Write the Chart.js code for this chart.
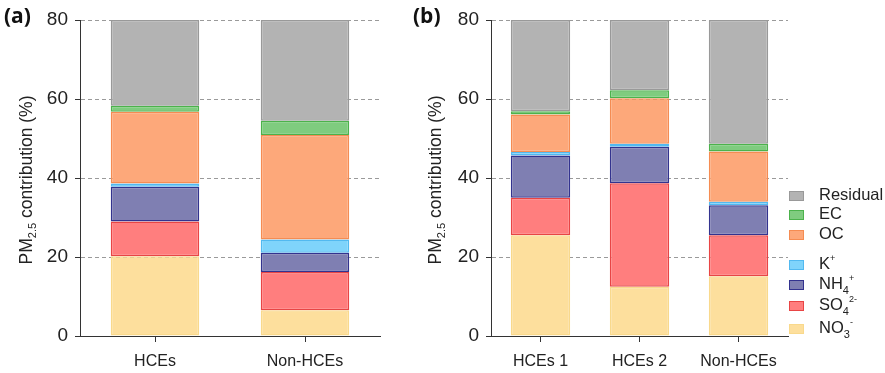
<!DOCTYPE html>
<html>
<head>
<meta charset="utf-8">
<script src="https://cdn.jsdelivr.net/npm/chart.js"></script>
<style>
  body { margin: 0; background: #fff; font-family: "Liberation Sans", Arial, sans-serif; }
  #wrap { position: relative; width: 885px; height: 373px; overflow: hidden; }
  canvas { position: absolute; top: 0; }
  .panel { position: absolute; top: 1px; font-family: "Open Sans", sans-serif; font-weight: bold; font-size: 21px; color: #111; }
  .ytitle { position: absolute; top: 180px; font-size: 17.5px; color: #222; white-space: nowrap;
            transform: translate(-50%, -50%) rotate(-90deg); }
  .ytitle sub { font-size: 11px; }
  .legend { position: absolute; left: 789px; top: 0; font-size: 16.5px; color: #222; }
  .item { position: absolute; left: 0; white-space: nowrap; height: 20px; line-height: 20px; transform: translateY(-50%); }
  .box { display: inline-block; width: 13px; height: 8px; border: 1px solid; vertical-align: middle; margin-right: 15px; }
  .item sub { font-size: 11px; vertical-align: -5px; }
  .item sup { font-size: 9px; vertical-align: 8px; }
</style>
</head>
<body>
<div id="wrap">
  <canvas id="chartA"></canvas>
  <canvas id="chartB"></canvas>
  <div class="panel" style="left:4px">(a)</div>
  <div class="panel" style="left:413px">(b)</div>
  <div class="ytitle" style="left:27px">PM<sub>2.5</sub> contribution (%)</div>
  <div class="ytitle" style="left:436px">PM<sub>2.5</sub> contribution (%)</div>
  <div class="legend" id="legend"></div>
</div>
<script>
// panel (a)
const labelsA = ['HCEs', 'Non-HCEs'];
const no3A = [20.2, 6.5];
const so4A = [8.8, 9.7];
const nh4A = [8.8, 4.9];
const kA = [0.8, 3.3];
const ocA = [18.2, 26.5];
const ecA = [1.5, 3.6];
const resA = [21.7, 25.5];

// panel (b)
const labelsB = ['HCEs 1', 'HCEs 2', 'Non-HCEs'];
const no3B = [25.5, 12.5, 15.1];
const so4B = [9.5, 26.2, 10.4];
const nh4B = [10.7, 9.2, 7.6];
const kB = [0.9, 0.8, 0.9];
const ocB = [9.5, 11.5, 12.7];
const ecB = [0.8, 2.0, 2.0];
const resB = [23.1, 17.8, 31.3];

const yTicks = [0, 20, 40, 60, 80];

// stacking order bottom -> top
const species = ['NO3', 'SO4', 'NH4', 'K', 'OC', 'EC', 'Residual'];
const fills = ['#fddf9d', '#ff7e7e', '#7f7fb2', '#7fd4fb', '#fda87a', '#7fcc7f', '#b3b3b3'];
const borders = ['#f9d98c', '#e84545', '#33338f', '#52b9f0', '#f58c52', '#4cb24c', '#999999'];
const legendHtml = ['NO<sub>3</sub><sup>-</sup>', 'SO<sub>4</sub><sup>2-</sup>', 'NH<sub>4</sub><sup>+</sup>',
  'K<sup>+</sup>', 'OC', 'EC', 'Residual'];
const legendY = [322, 299, 278, 258, 233, 213, 194];

function makeChart(id, left, width, labels, series, barPct) {
  const canvas = document.getElementById(id);
  canvas.style.left = left + 'px';
  canvas.width = width;
  canvas.height = 373;
  canvas.style.width = width + 'px';
  canvas.style.height = '373px';

  const datasets = series.map(function (d, i) {
    return {
      label: species[i],
      data: d,
      backgroundColor: fills[i],
      borderColor: borders[i],
      borderWidth: 1.5,
      borderSkipped: false,
      barPercentage: barPct,
      categoryPercentage: 1
    };
  });

  return new Chart(canvas.getContext('2d'), {
    type: 'bar',
    data: { labels: labels, datasets: datasets },
    options: {
      responsive: false,
      animation: false,
      layout: { padding: { top: 20, right: 2, left: 0, bottom: 0 } },
      plugins: { legend: { display: false }, tooltip: { enabled: false } },
      scales: {
        x: {
          stacked: true,
          grid: { display: true, drawOnChartArea: false, drawTicks: true, tickLength: 6, tickColor: '#333', offset: false },
          border: { display: true, color: '#333', width: 1 },
          ticks: { color: '#222', padding: 10, font: { family: 'Liberation Sans', size: 16 } },
          afterFit: function (s) { s.height = 37; }
        },
        y: {
          stacked: true,
          min: 0,
          max: 80,
          afterBuildTicks: function (s) { s.ticks = yTicks.map(function (v) { return { value: v }; }); },
          grid: {
            color: function (c) { return c.tick && c.tick.value === 0 ? 'rgba(0,0,0,0)' : '#9a9a9a'; },
            tickColor: '#333',
            tickLength: 5,
            lineWidth: 1
          },
          border: { display: true, color: '#333', width: 1, dash: [4, 3] },
          ticks: { color: '#222', padding: 7, font: { family: 'Liberation Sans', size: 19 } },
          afterFit: function (s) { s.width = 80; }
        }
      }
    }
  });
}

makeChart('chartA', 0, 382, labelsA, [no3A, so4A, nh4A, kA, ocA, ecA, resA], 0.59);
makeChart('chartB', 411, 379, labelsB, [no3B, so4B, nh4B, kB, ocB, ecB, resB], 0.6);

// legend, top entry = Residual
const legend = document.getElementById('legend');
for (let i = species.length - 1; i >= 0; i--) {
  const div = document.createElement('div');
  div.className = 'item';
  div.style.top = legendY[i] + 'px';
  div.innerHTML = '<span class="box" style="background:' + fills[i] + ';border-color:' + borders[i] + '"></span>' + legendHtml[i];
  legend.appendChild(div);
}
</script>
</body>
</html>
